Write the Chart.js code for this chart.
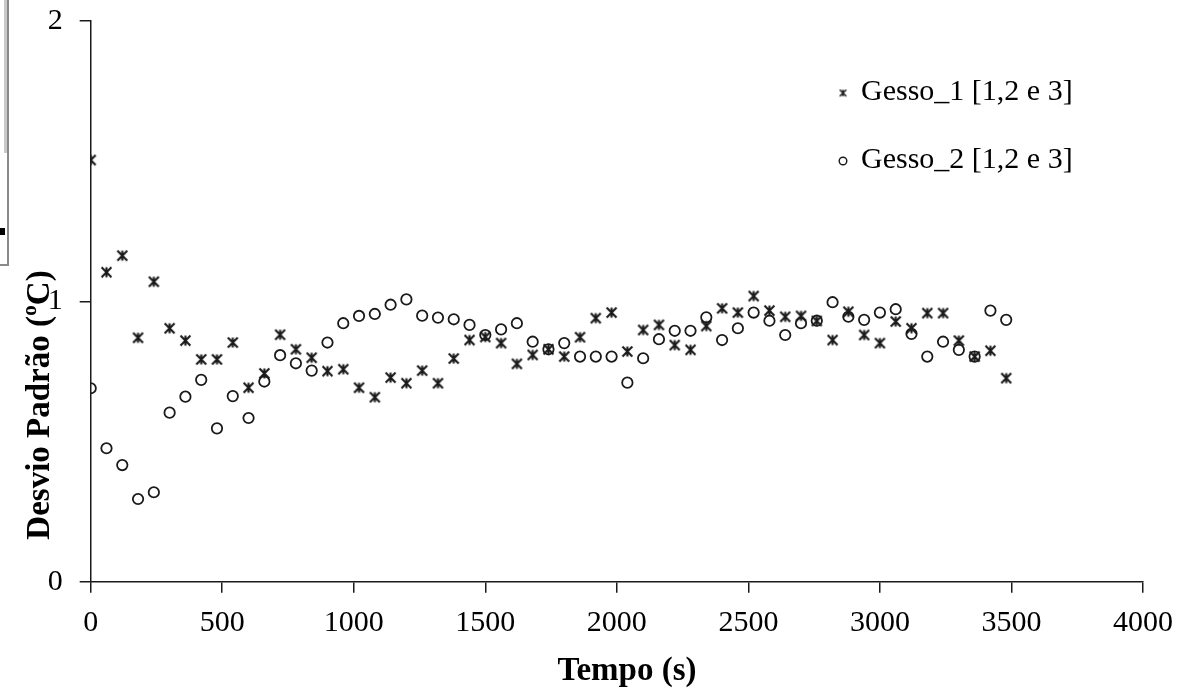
<!DOCTYPE html>
<html>
<head>
<meta charset="utf-8">
<title>Desvio Padrão - Gesso</title>
<script src="https://cdn.jsdelivr.net/npm/chart.js@4.4.1/dist/chart.umd.min.js"></script>
<style>
  html, body { margin: 0; padding: 0; background: #fff; }
  #wrap { position: relative; width: 1194px; height: 689px; }
  /* bit of the neighbouring figure that got cropped in on the left */
  .frag { position: absolute; }
</style>
</head>
<body>
<div id="wrap">
  <canvas id="chart"></canvas>
  <div class="frag" style="left:4px;top:0;width:3px;height:153px;background:#c9c9c9"></div>
  <div class="frag" style="left:7px;top:0;width:1.5px;height:265px;background:#8a8a8a"></div>
  <div class="frag" style="left:0;top:264px;width:8.5px;height:1.5px;background:#8a8a8a"></div>
  <div class="frag" style="left:0;top:228px;width:5px;height:7px;background:#000"></div>
</div>
<script>
// time (s), one reading every minute
const TIMES = [0, 60, 120, 180, 240, 300, 360, 420, 480, 540, 600, 660, 720, 780, 840, 900, 960, 1020,
    1080, 1140, 1200, 1260, 1320, 1380, 1440, 1500, 1560, 1620, 1680, 1740, 1800, 1860, 1920, 1980,
    2040, 2100, 2160, 2220, 2280, 2340, 2400, 2460, 2520, 2580, 2640, 2700, 2760, 2820, 2880, 2940,
    3000, 3060, 3120, 3180, 3240, 3300, 3360, 3420, 3480];

// standard deviation (ºC)
const GESSO_1 = [1.504, 1.104, 1.163, 0.870, 1.070, 0.904, 0.860, 0.793, 0.793, 0.853, 0.692, 0.743,
    0.881, 0.829, 0.799, 0.751, 0.758, 0.692, 0.658, 0.728, 0.708, 0.753, 0.708, 0.796, 0.862, 0.873,
    0.851, 0.777, 0.809, 0.829, 0.803, 0.872, 0.940, 0.960, 0.821, 0.898, 0.916, 0.844, 0.827, 0.912,
    0.975, 0.960, 1.019, 0.967, 0.945, 0.948, 0.930, 0.862, 0.963, 0.880, 0.851, 0.928, 0.904, 0.958,
    0.958, 0.860, 0.803, 0.824, 0.726];

const GESSO_2 = [0.690, 0.476, 0.416, 0.295, 0.319, 0.603, 0.660, 0.720, 0.547, 0.662, 0.584, 0.714,
    0.808, 0.779, 0.753, 0.853, 0.922, 0.948, 0.955, 0.988, 1.007, 0.949, 0.942, 0.936, 0.916, 0.880,
    0.900, 0.922, 0.856, 0.829, 0.851, 0.803, 0.803, 0.803, 0.710, 0.797, 0.865, 0.895, 0.895, 0.943,
    0.862, 0.904, 0.960, 0.931, 0.880, 0.922, 0.931, 0.997, 0.945, 0.934, 0.960, 0.972, 0.884, 0.803,
    0.856, 0.827, 0.803, 0.967, 0.934];

const SERIES_NAMES = ['Gesso_1 [1,2 e 3]', 'Gesso_2 [1,2 e 3]'];
const X_TITLE = 'Tempo (s)';
const Y_TITLE = 'Desvio Padrão (ºC)';

const X_MIN = 0, X_MAX = 4000, X_STEP = 500;
const Y_MIN = 0, Y_MAX = 2, Y_STEP = 1;

const SERIF = "'Liberation Serif', 'Times New Roman', serif";
const INK = '#1a1a1a';

// excel-like "star" marker: an X with a vertical bar through it
function makeStar(size, lw) {
    const c = document.createElement('canvas');
    c.width = size;
    c.height = size;
    const g = c.getContext('2d');
    const a = lw / 2 + 0.5, b = size - a, m = size / 2;
    g.strokeStyle = INK;
    g.lineWidth = lw;
    g.beginPath();
    g.moveTo(a, a); g.lineTo(b, b);
    g.moveTo(b, a); g.lineTo(a, b);
    g.moveTo(m, a); g.lineTo(m, b);
    g.stroke();
    return c;
}

const starBig = makeStar(13, 2.1);
const starSmall = makeStar(9, 1.5);

function toPoints(ys) {
    return TIMES.map((t, i) => ({ x: t, y: ys[i] }));
}

// axis titles and legend are placed by hand like in the original figure
const paperText = {
    id: 'paperText',
    afterDraw(chart) {
        const ctx = chart.ctx;
        ctx.save();
        ctx.fillStyle = '#000';

        // x title
        ctx.font = 'bold 33px ' + SERIF;
        ctx.textAlign = 'center';
        ctx.textBaseline = 'middle';
        ctx.fillText(X_TITLE, 627, 671);

        // y title
        ctx.save();
        ctx.translate(40, 405);
        ctx.rotate(-Math.PI / 2);
        ctx.fillText(Y_TITLE, 0, 0);
        ctx.restore();

        // legend
        ctx.font = '30px ' + SERIF;
        ctx.textAlign = 'left';
        ctx.textBaseline = 'alphabetic';
        ctx.drawImage(starSmall, 843 - 4.5, 93 - 4.5);
        ctx.fillText(SERIES_NAMES[0], 861, 100);

        ctx.strokeStyle = INK;
        ctx.lineWidth = 1.4;
        ctx.beginPath();
        ctx.arc(843, 161, 3.8, 0, Math.PI * 2);
        ctx.stroke();
        ctx.fillText(SERIES_NAMES[1], 861, 168);

        ctx.restore();
    }
};

const axisLine = { display: true, color: INK, width: 1.5 };
const tickMarks = {
    display: true,
    drawOnChartArea: false,
    drawTicks: true,
    tickLength: 11,
    color: INK,
    lineWidth: 1.5
};
const plainNumber = v => String(v);

new Chart(document.getElementById('chart'), {
    type: 'scatter',
    data: {
        datasets: [
            {
                label: SERIES_NAMES[0],
                data: toPoints(GESSO_1),
                pointStyle: starBig,
                pointRadius: 6,
                pointHoverRadius: 6
            },
            {
                label: SERIES_NAMES[1],
                data: toPoints(GESSO_2),
                pointStyle: 'circle',
                pointRadius: 5.2,
                pointHoverRadius: 5.2,
                borderColor: INK,
                borderWidth: 1.8,
                backgroundColor: 'rgba(0,0,0,0)'
            }
        ]
    },
    options: {
        responsive: true,
        maintainAspectRatio: false,
        animation: false,
        devicePixelRatio: 1,
        layout: { padding: { top: 21, right: 51, left: 0, bottom: 0 } },
        plugins: {
            legend: { display: false },
            tooltip: { enabled: false }
        },
        scales: {
            x: {
                type: 'linear',
                min: X_MIN,
                max: X_MAX,
                border: axisLine,
                grid: tickMarks,
                ticks: {
                    stepSize: X_STEP,
                    padding: 12,
                    color: '#000',
                    font: { family: SERIF, size: 30 },
                    maxRotation: 0,
                    callback: plainNumber
                },
                afterFit(scale) {
                    scale.height = 107.3;
                    scale.paddingLeft = 0;
                    scale.paddingRight = 0;
                }
            },
            y: {
                type: 'linear',
                min: Y_MIN,
                max: Y_MAX,
                border: axisLine,
                grid: tickMarks,
                ticks: {
                    stepSize: Y_STEP,
                    padding: 17,
                    color: '#000',
                    font: { family: SERIF, size: 30 },
                    callback: plainNumber
                },
                afterFit(scale) {
                    scale.width = 90.7;
                    scale.paddingTop = 0;
                    scale.paddingBottom = 0;
                }
            }
        }
    },
    plugins: [paperText]
});
</script>
</body>
</html>
